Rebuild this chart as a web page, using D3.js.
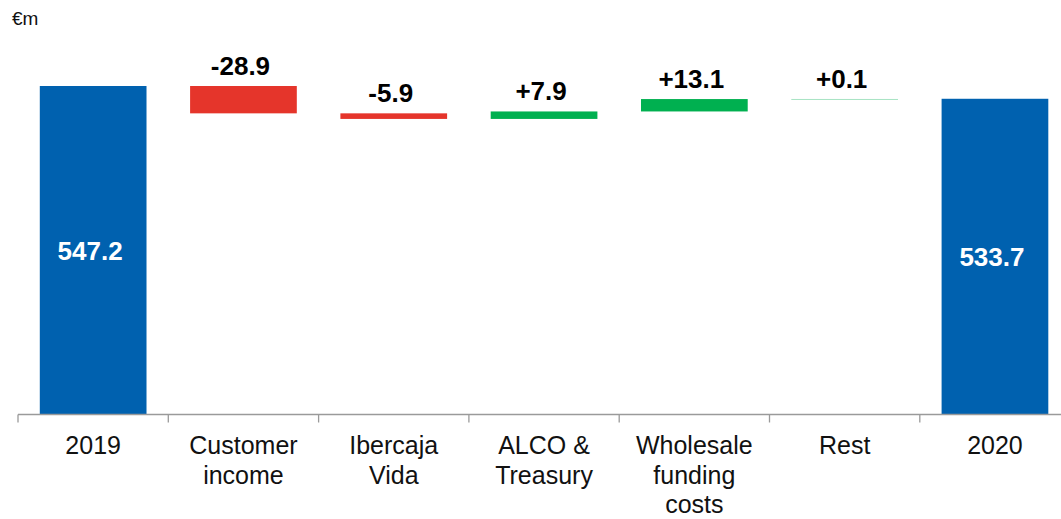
<!DOCTYPE html>
<html>
<head>
<meta charset="utf-8">
<script src="https://cdn.jsdelivr.net/npm/d3@7"></script>
<style>
  html, body { margin: 0; padding: 0; background: #fff; }
  svg { display: block; font-family: "Liberation Sans", Arial, sans-serif; }
</style>
</head>
<body>
<svg id="chart" width="1061" height="519"></svg>
<script>
// ---- data ----
const categories = ["2019", "Customer income", "Ibercaja Vida", "ALCO & Treasury", "Wholesale funding costs", "Rest", "2020"];
const tickLabels = ["2019", "Customer\nincome", "Ibercaja\nVida", "ALCO &\nTreasury", "Wholesale\nfunding\ncosts", "Rest", "2020"];
const kinds = ["total", "delta", "delta", "delta", "delta", "delta", "total"];
const values = [547.2, -28.9, -5.9, 7.9, 13.1, 0.1, 533.7];
const unitLabel = "€m";

// ---- layout ----
const svg = d3.select("#chart");
const baseY = 414.5;
const topY = 86;
const axisMin = 200;

const x = d3.scaleBand()
  .domain(categories)
  .range([18, 18 + 7 * 150.3])
  .paddingInner(0.29)
  .paddingOuter(0.145);

const y = d3.scaleLinear()
  .domain([axisMin, values[0]])
  .range([baseY, topY]);

const colors = { total: "#0061AF", up: "#00B050", down: "#E5352B" };

// compute waterfall
let running = 0;
const bars = categories.map((c, i) => {
  const v = values[i];
  if (kinds[i] === "total") {
    running = v;
    return { c, v, kind: "total", y0: axisMin, y1: v };
  }
  const start = running;
  running += v;
  return { c, v, kind: v >= 0 ? "up" : "down", y0: start, y1: running };
});

// bars
svg.append("g").selectAll("rect")
  .data(bars)
  .join("rect")
  .attr("x", d => x(d.c))
  .attr("width", x.bandwidth())
  .attr("y", d => y(Math.max(d.y0, d.y1)))
  .attr("height", d => Math.max(1, Math.abs(y(d.y0) - y(d.y1))))
  .attr("fill", d => colors[d.kind])
  .attr("fill-opacity", d => Math.min(1, Math.max(0.35, Math.abs(y(d.y0) - y(d.y1)))));

// axis line via d3 axis (no default ticks)
const axisG = svg.append("g")
  .attr("transform", `translate(0,${baseY})`)
  .call(d3.axisBottom(x).tickSize(0).tickFormat(""));
axisG.select(".domain").attr("stroke", "#9a9a9a").attr("stroke-width", 1.3)
  .attr("d", `M${x.range()[0]},0H1070`);

// boundary ticks
const half = x.step() * x.paddingInner() / 2;
svg.append("g").selectAll("line")
  .data(categories)
  .join("line")
  .attr("x1", d => x(d) - half)
  .attr("x2", d => x(d) - half)
  .attr("y1", baseY)
  .attr("y2", baseY + 8)
  .attr("stroke", "#9a9a9a")
  .attr("stroke-width", 1.3);

// category labels
const lab = svg.append("g").selectAll("text")
  .data(categories)
  .join("text")
  .attr("text-anchor", "middle")
  .attr("font-size", 25)
  .attr("fill", "#111");
lab.each(function(d, i) {
  const lines = tickLabels[i].split("\n");
  d3.select(this).selectAll("tspan")
    .data(lines)
    .join("tspan")
    .attr("x", x(d) + x.bandwidth() / 2)
    .attr("y", (l, j) => 454 + j * 29.5)
    .text(l => l);
});

// value labels
const fmt = d3.format(".1f");
const signed = v => (v > 0 ? "+" : v < 0 ? "-" : "") + fmt(Math.abs(v));
svg.append("g").selectAll("text")
  .data(bars)
  .join("text")
  .attr("text-anchor", "middle")
  .attr("font-size", 26)
  .attr("font-weight", "bold")
  .attr("x", d => x(d.c) + x.bandwidth() / 2 - 3)
  .attr("y", d => d.kind === "total"
    ? (y(d.y1) + y(d.y0)) / 2 + 9.5
    : y(Math.max(d.y0, d.y1)) - 11)
  .attr("fill", d => d.kind === "total" ? "#fff" : "#000")
  .text(d => d.kind === "total" ? fmt(d.v) : signed(d.v));

// unit label
svg.append("text")
  .attr("x", 12)
  .attr("y", 25)
  .attr("font-size", 19)
  .attr("fill", "#111")
  .text(unitLabel);
</script>
</body>
</html>
